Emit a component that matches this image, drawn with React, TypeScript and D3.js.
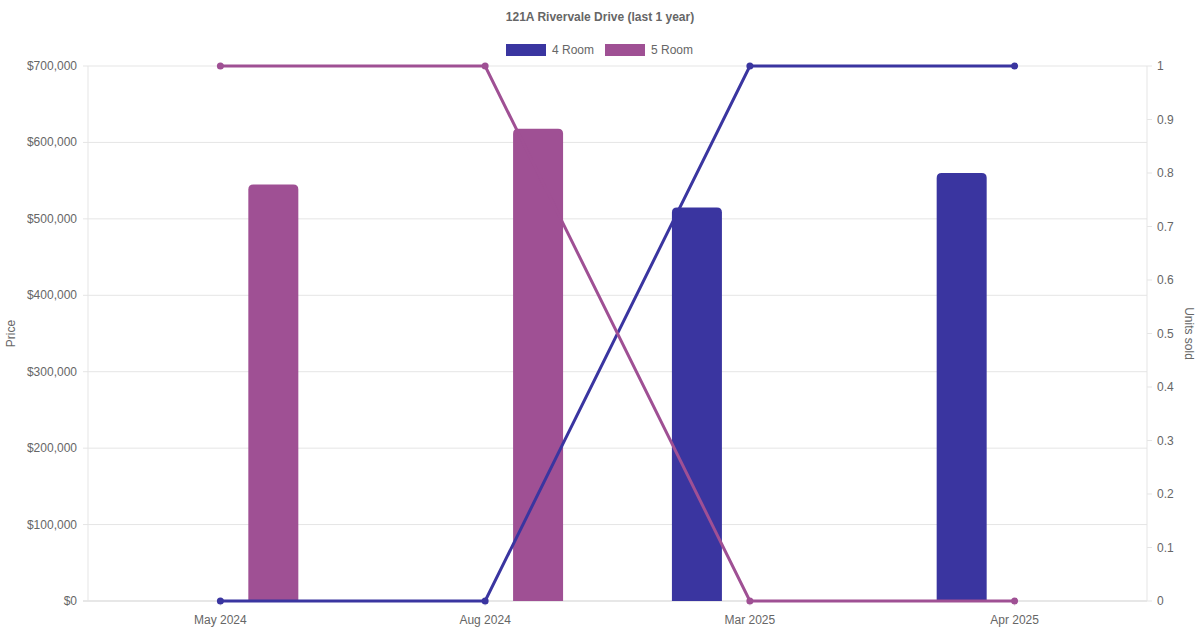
import React from "react";
import * as d3 from "d3";

const categories = ["May 2024", "Aug 2024", "Mar 2025", "Apr 2025"];
const seriesNames = ["4 Room", "5 Room"];
const colors = ["#3a35a0", "#9f5094"];
const priceValues: (number | null)[][] = [
  [null, null, 515000, 560000],
  [545000, 618000, null, null],
];
const unitsValues: number[][] = [
  [0, 0, 1, 1],
  [1, 1, 0, 0],
];
const priceTicks = [0, 100000, 200000, 300000, 400000, 500000, 600000, 700000];
const unitTicks = [0, 0.1, 0.2, 0.3, 0.4, 0.5, 0.6, 0.7, 0.8, 0.9, 1];
const title = "121A Rivervale Drive (last 1 year)";

const W = 1200, H = 630;
const left = 88, right = 1147, top = 66, bottom = 601;
const font = "'Liberation Sans', Arial, Helvetica, sans-serif";

function topRoundedRect(x: number, y: number, w: number, h: number, r: number) {
  const rr = Math.min(r, w / 2, h);
  return `M${x},${y + h}V${y + rr}Q${x},${y} ${x + rr},${y}H${x + w - rr}Q${x + w},${y} ${x + w},${y + rr}V${y + h}Z`;
}

export default function App() {
  const x = d3.scaleBand().domain(categories).range([left, right]).paddingInner(0).paddingOuter(0);
  const inner = d3.scaleBand().domain(seriesNames).range([0, x.bandwidth() * 0.8]);
  const yP = d3.scaleLinear().domain([0, 700000]).range([bottom, top]);
  const yU = d3.scaleLinear().domain([0, 1]).range([bottom, top]);
  const fmt = (v: number) => "$" + d3.format(",")(v);
  const barW = 50;
  const line = d3.line<number>().x((_, i) => x(categories[i])! + x.bandwidth() / 2).y((d) => yU(d));

  return (
    <svg width={W} height={H} style={{ position: "absolute", left: 0, top: 0, background: "#fff" }} fontFamily={font}>
      <text x={600} y={21} textAnchor="middle" fontSize={12} fontWeight="bold" fill="#666">{title}</text>
      {seriesNames.map((s, i) => {
        const bx = i === 0 ? 506 : 605;
        return (
          <g key={s}>
            <rect x={bx} y={44} width={40} height={12} fill={colors[i]} />
            <text x={bx + 46} y={54} fontSize={12} fill="#666">{s}</text>
          </g>
        );
      })}
      {/* grid */}
      {priceTicks.map((t) => (
        <g key={t}>
          <line x1={left - 5} x2={right} y1={yP(t)} y2={yP(t)} stroke={t === 0 ? "#cfcfcf" : "#e5e5e5"} strokeWidth={1} />
          <text x={left - 11} y={yP(t) + 4} textAnchor="end" fontSize={12} fill="#666">{fmt(t)}</text>
        </g>
      ))}
      <line x1={left} x2={left} y1={top} y2={bottom} stroke="#e5e5e5" />
      <line x1={right} x2={right} y1={top} y2={bottom} stroke="#e5e5e5" />
      {unitTicks.map((t) => (
        <g key={t}>
          <line x1={right} x2={right + 5} y1={yU(t)} y2={yU(t)} stroke="#e5e5e5" />
          <text x={right + 10} y={yU(t) + 4} fontSize={12} fill="#666">{d3.format("~g")(t)}</text>
        </g>
      ))}
      {categories.map((c) => (
        <g key={c}>
          <line x1={x(c)! + x.bandwidth() / 2} x2={x(c)! + x.bandwidth() / 2} y1={bottom} y2={bottom + 5} stroke="#e5e5e5" />
          <text x={x(c)! + x.bandwidth() / 2} y={bottom + 23} textAnchor="middle" fontSize={12} fill="#666">{c}</text>
        </g>
      ))}
      <text transform={`translate(15,${(top + bottom) / 2}) rotate(-90)`} textAnchor="middle" fontSize={12} fill="#666">Price</text>
      <text transform={`translate(1185,${(top + bottom) / 2}) rotate(90)`} textAnchor="middle" fontSize={12} fill="#666">Units sold</text>
      {/* bars */}
      {seriesNames.map((s, si) =>
        priceValues[si].map((v, ci) => {
          if (v == null) return null;
          const cx = x(categories[ci])! + x.bandwidth() * 0.1 + inner(s)! + inner.bandwidth() / 2;
          const y0 = yP(v);
          return <path key={`${si}-${ci}`} d={topRoundedRect(cx - barW / 2, y0, barW, bottom - y0, 5)} fill={colors[si]} />;
        })
      )}
      {/* lines on top of bars */}
      {seriesNames.map((s, si) => (
        <g key={s}>
          <path d={line(unitsValues[si])!} fill="none" stroke={colors[si]} strokeWidth={3} />
          {unitsValues[si].map((v, ci) => (
            <circle key={ci} cx={x(categories[ci])! + x.bandwidth() / 2} cy={yU(v)} r={3.5} fill={colors[si]} />
          ))}
        </g>
      ))}
    </svg>
  );
}
